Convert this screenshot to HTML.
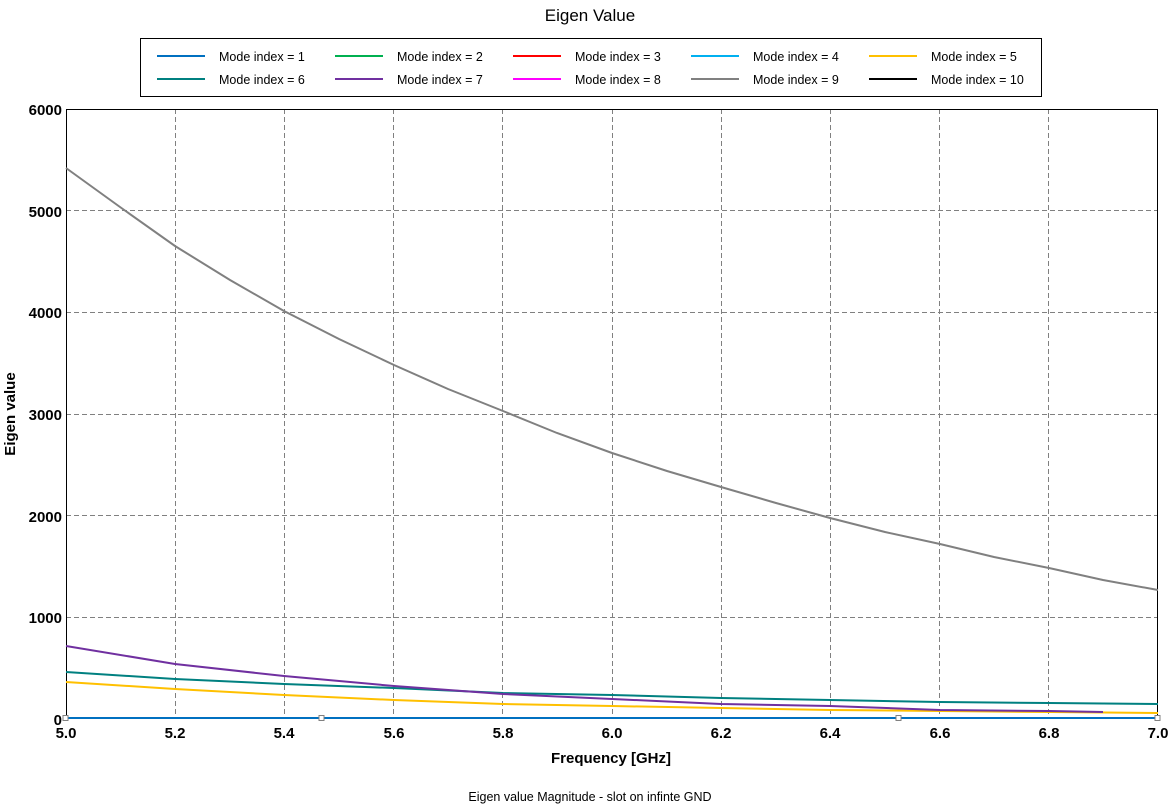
<!DOCTYPE html>
<html><head><meta charset="utf-8"><style>body{margin:0;background:#fff}svg{display:block}</style></head><body>
<svg width="1175" height="804" xmlns="http://www.w3.org/2000/svg" font-family="Liberation Sans, sans-serif">
<rect width="1175" height="804" fill="#fff"/>
<text x="590" y="21" text-anchor="middle" font-size="17">Eigen Value</text>
<rect x="140.5" y="38.5" width="901" height="58" fill="#fff" stroke="#000"/>
<g font-size="12.5">
<line x1="157" y1="56" x2="205" y2="56" stroke="#0070c0" stroke-width="2"/><text x="219" y="61">Mode index = 1</text>
<line x1="335" y1="56" x2="383" y2="56" stroke="#00b050" stroke-width="2"/><text x="397" y="61">Mode index = 2</text>
<line x1="513" y1="56" x2="561" y2="56" stroke="#ff0000" stroke-width="2"/><text x="575" y="61">Mode index = 3</text>
<line x1="691" y1="56" x2="739" y2="56" stroke="#00b0f0" stroke-width="2"/><text x="753" y="61">Mode index = 4</text>
<line x1="869" y1="56" x2="917" y2="56" stroke="#ffc000" stroke-width="2"/><text x="931" y="61">Mode index = 5</text>
<line x1="157" y1="79" x2="205" y2="79" stroke="#008080" stroke-width="2"/><text x="219" y="84">Mode index = 6</text>
<line x1="335" y1="79" x2="383" y2="79" stroke="#7030a0" stroke-width="2"/><text x="397" y="84">Mode index = 7</text>
<line x1="513" y1="79" x2="561" y2="79" stroke="#ff00ff" stroke-width="2"/><text x="575" y="84">Mode index = 8</text>
<line x1="691" y1="79" x2="739" y2="79" stroke="#808080" stroke-width="2"/><text x="753" y="84">Mode index = 9</text>
<line x1="869" y1="79" x2="917" y2="79" stroke="#000" stroke-width="2"/><text x="931" y="84">Mode index = 10</text>
</g>
<g stroke="#808080" stroke-dasharray="5,3" stroke-width="1">
<line x1="66" y1="210.5" x2="1158" y2="210.5"/><line x1="66" y1="312.5" x2="1158" y2="312.5"/><line x1="66" y1="414.5" x2="1158" y2="414.5"/><line x1="66" y1="515.5" x2="1158" y2="515.5"/><line x1="66" y1="617.5" x2="1158" y2="617.5"/>
<line x1="175.5" y1="109" x2="175.5" y2="719"/><line x1="284.5" y1="109" x2="284.5" y2="719"/><line x1="393.5" y1="109" x2="393.5" y2="719"/><line x1="502.5" y1="109" x2="502.5" y2="719"/><line x1="612.5" y1="109" x2="612.5" y2="719"/><line x1="721.5" y1="109" x2="721.5" y2="719"/><line x1="830.5" y1="109" x2="830.5" y2="719"/><line x1="939.5" y1="109" x2="939.5" y2="719"/><line x1="1048.5" y1="109" x2="1048.5" y2="719"/>
</g>
<rect x="66.5" y="109.5" width="1091" height="609" fill="none" stroke="#000"/>
<g fill="none" stroke-width="2">
<polyline stroke="#ffc000" points="66,682 175,689 284,695 394,700 503,704 612,706 721,708 830,710 940,711 1049,712 1158,713"/>
<polyline stroke="#008080" points="66,672 175,679 284,684 394,688 503,693 612,695 721,698 830,700 940,702 1049,703 1158,704"/>
<polyline stroke="#7030a0" points="66,646 175,664 284,676 394,686 503,694 612,699 721,704 830,706 940,710 1049,711 1103,712"/>
<polyline stroke="#808080" points="66,168 120,207 175,246 230,280 284,311 339,339 394,365 448,389 503,411 557,433 612,453 667,471 721,487 776,503 830,518 885,532 940,544 994,557 1049,568 1103,580 1158,590"/>
<line x1="66" y1="718" x2="1158" y2="718" stroke="#0070c0"/>
</g>
<g fill="#fff" stroke="#808080"><rect x="63" y="715.5" width="5" height="5"/><rect x="319" y="715.5" width="5" height="5"/><rect x="896" y="715.5" width="5" height="5"/><rect x="1155" y="715.5" width="5" height="5"/></g>
<g font-size="15" font-weight="bold" text-anchor="end">
<text x="62" y="115">6000</text><text x="62" y="217">5000</text><text x="62" y="318">4000</text><text x="62" y="420">3000</text><text x="62" y="522">2000</text><text x="62" y="623">1000</text><text x="62" y="725">0</text>
</g>
<g font-size="15" font-weight="bold" text-anchor="middle">
<text x="66" y="738">5.0</text><text x="175" y="738">5.2</text><text x="284" y="738">5.4</text><text x="394" y="738">5.6</text><text x="503" y="738">5.8</text><text x="612" y="738">6.0</text><text x="721" y="738">6.2</text><text x="830" y="738">6.4</text><text x="940" y="738">6.6</text><text x="1049" y="738">6.8</text><text x="1158" y="738">7.0</text>
<text x="611" y="763">Frequency [GHz]</text>
<text transform="translate(15,414) rotate(-90)">Eigen value</text>
</g>
<text x="590" y="801" text-anchor="middle" font-size="12.5">Eigen value Magnitude - slot on infinte GND</text>
</svg>
</body></html>
